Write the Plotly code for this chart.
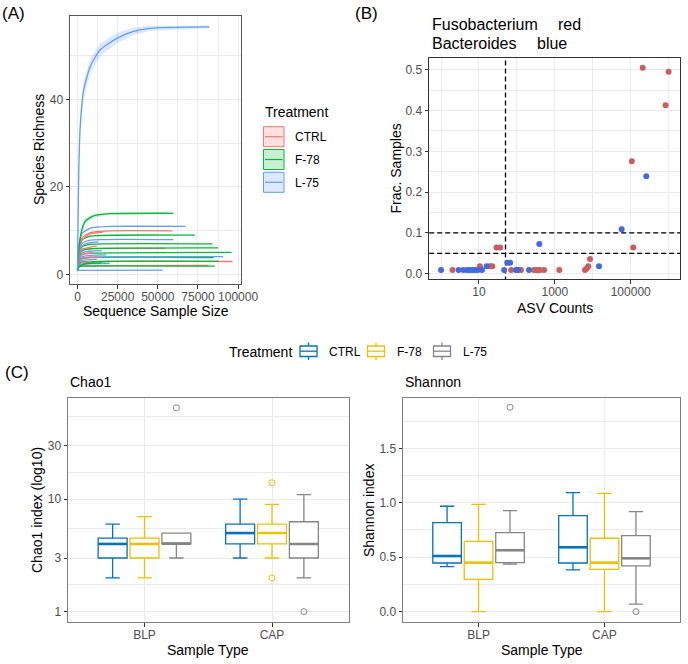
import math
import plotly.graph_objects as go

W, H = 688, 664
FONT = "Liberation Sans"
TICK_TXT = "#4D4D4D"
GRID = "#EBEBEB"


def px(x):
    return x / W


def py(y):
    return 1 - y / H


# ---------------- Panel A : rarefaction curves ----------------
treatments = ["CTRL", "F-78", "L-75"]
rare_colors = {"CTRL": "#F8766D", "F-78": "#00BA38", "L-75": "#619CFF"}
rare_fills = {"CTRL": "rgba(248,118,109,0.22)", "F-78": "rgba(0,186,56,0.22)",
              "L-75": "rgba(97,156,255,0.22)"}

rare_treatment = [
    "L-75", "CTRL", "F-78", "L-75", "F-78", "CTRL", "F-78", "F-78", "F-78", "L-75",
    "CTRL", "F-78", "CTRL", "F-78", "L-75",
    "CTRL", "L-75", "CTRL", "L-75", "CTRL", "L-75", "CTRL", "L-75", "F-78", "CTRL",
    "L-75", "F-78",
]
rare_depth = [
    [1, 1000, 3000, 8000, 20000, 67300],
    [1, 1000, 3000, 8000, 20000, 59000],
    [1, 1000, 3000, 8000, 73100],
    [1, 1000, 3000, 8000, 59600],
    [1, 1000, 3000, 8000, 84100],
    [1, 1000, 3000, 8000, 54500],
    [1, 1000, 3000, 8000, 87600],
    [1, 1000, 3000, 8000, 95900],
    [1, 1000, 3000, 84800],
    [1, 1000, 3000, 8000, 90700],
    [1, 1000, 3000, 96500],
    [1, 1000, 3000, 88000],
    [1, 1000, 3000, 81400],
    [1, 1000, 3000, 85500],
    [1, 53000],
    [1, 1000, 3000, 8000, 16000],
    [1, 1000, 3000, 8000, 13000],
    [1, 1000, 3000, 8000, 12000],
    [1, 1000, 3000, 8000, 15000],
    [1, 1000, 3000, 10000],
    [1, 1000, 3000, 8000, 18000],
    [1, 1000, 3000, 14000],
    [1, 1000, 3000, 12000],
    [1, 1000, 3000, 20000],
    [1, 1000, 3000, 9000],
    [1, 1000, 3000, 20000],
    [1, 1000, 3000, 8000, 15000],
]
rare_richness = [
    [1, 7, 9.5, 10.6, 11, 11],
    [1, 6, 8.5, 9.6, 10, 10],
    [1, 6, 8, 8.8, 9],
    [1, 5.5, 7.2, 7.9, 8],
    [1, 5, 6.4, 6.9, 7],
    [1, 4.5, 5.6, 5.95, 6],
    [1, 4.3, 5.5, 5.9, 6.1],
    [1, 3.8, 4.6, 4.9, 5.1],
    [1, 3, 3.7, 3.9],
    [1, 3.2, 3.8, 4.0, 4.1],
    [1, 2.6, 2.9, 3],
    [1, 2.5, 2.85, 3.05],
    [1, 1.9, 2, 2.1],
    [1, 1.8, 1.95, 1.95],
    [1, 1.05],
    [1, 5.5, 8, 9.3, 9.7],
    [1, 5, 6.6, 7.3, 7.5],
    [1, 4.5, 5.8, 6.3, 6.5],
    [1, 4, 5, 5.4, 5.5],
    [1, 3.8, 4.6, 5],
    [1, 3.5, 4.1, 4.4, 4.5],
    [1, 3.2, 3.8, 4],
    [1, 2.8, 3.3, 3.5],
    [1, 2.4, 2.8, 3],
    [1, 2.4, 2.8, 3],
    [1, 2.0, 2.4, 2.5],
    [1, 1.7, 2.3, 2.6, 2.7],
]

# curves drawn with confidence ribbons
f78_top_depth = [1, 1000, 2500, 5000, 10000, 20000, 59600]
f78_top_rich = [1, 6.5, 10, 12.3, 13.4, 13.9, 14]
f78_top_low = [1, 5.8, 9.2, 11.7, 13.0, 13.7, 13.9]
f78_top_high = [1, 7.2, 10.8, 12.9, 13.8, 14.1, 14.1]

l75_big_depth = [1, 300, 800, 1660, 3730, 7900, 14100, 24500, 34800, 45000, 82000]
l75_big_rich = [1, 12, 24, 33.8, 42, 47.5, 51.3, 53.9, 55.5, 56.2, 56.5]
l75_big_low = [1, 10.5, 22, 32, 40, 45.8, 49.8, 52.7, 54.6, 55.6, 56.2]
l75_big_high = [1, 13.5, 26, 35.6, 44, 49.2, 52.8, 55.1, 56.4, 56.8, 56.8]

# ---------------- Panel B : prevalence vs counts ----------------
fuso_counts = [2, 10.6, 19.5, 22.4, 29, 36, 70, 128, 282, 318, 360, 406, 517, 1310,
               6240, 6920, 7600, 8440, 117000, 107000, 833000, 1000000, 207000]
fuso_frac = [0.009, 0.018, 0.018, 0.018, 0.064, 0.064, 0.009, 0.009, 0.009, 0.009,
             0.009, 0.009, 0.009, 0.009, 0.009, 0.013, 0.018, 0.036, 0.064, 0.2755,
             0.413, 0.495, 0.505]
bact_counts = [1, 2.9, 3.9, 4.9, 5.8, 6.8, 8, 9.4, 12, 16, 46, 56, 66, 94, 107, 208,
               389, 14580, 57800, 258000]
bact_frac = [0.009, 0.009, 0.009, 0.009, 0.009, 0.009, 0.009, 0.009, 0.009, 0.018,
             0.009, 0.027, 0.027, 0.009, 0.009, 0.009, 0.073, 0.018, 0.109, 0.2387]
count_cutoff = 50
frac_cutoffs = [0.05, 0.1]

# ---------------- Panel C : alpha diversity ----------------
sample_types = ["BLP", "CAP"]
box_colors = {"CTRL": "#0073C2", "F-78": "#EFC000", "L-75": "#868686"}

chao1_low = {"CTRL": [2, 3], "F-78": [2, 3], "L-75": [3, 2]}
chao1_q1 = {"CTRL": [3, 4], "F-78": [3, 4], "L-75": [4, 3]}
chao1_med = {"CTRL": [4, 5], "F-78": [4, 5], "L-75": [4.02, 4]}
chao1_q3 = {"CTRL": [4.5, 6], "F-78": [4.5, 6], "L-75": [5, 6.3]}
chao1_high = {"CTRL": [6, 10], "F-78": [7, 9], "L-75": [5, 11]}
chao1_out_type = {"CTRL": [], "F-78": ["CAP", "CAP"], "L-75": ["BLP", "CAP"]}
chao1_out_val = {"CTRL": [], "F-78": [14, 2], "L-75": [65, 1]}

shan_low = {"CTRL": [0.413, 0.383], "F-78": [0.0, 0.0], "L-75": [0.436, 0.07]}
shan_q1 = {"CTRL": [0.447, 0.447], "F-78": [0.297, 0.389], "L-75": [0.45, 0.42]}
shan_med = {"CTRL": [0.511, 0.591], "F-78": [0.45, 0.45], "L-75": [0.564, 0.49]}
shan_q3 = {"CTRL": [0.817, 0.882], "F-78": [0.646, 0.674], "L-75": [0.726, 0.698]}
shan_high = {"CTRL": [0.968, 1.093], "F-78": [0.986, 1.087], "L-75": [0.928, 0.918]}
shan_out_type = {"CTRL": [], "F-78": [], "L-75": ["BLP", "CAP"]}
shan_out_val = {"CTRL": [], "F-78": [], "L-75": [1.877, 0.0]}

DODGE = 0.25
BOX_W = 0.227

fig = go.Figure()

# ---- Panel A traces ----
def ribbon(depth, low, high, tr, xa, ya):
    fig.add_trace(go.Scatter(x=depth, y=low, mode="lines", line=dict(width=0),
                             xaxis=xa, yaxis=ya, showlegend=False, hoverinfo="skip"))
    fig.add_trace(go.Scatter(x=depth, y=high, mode="lines", line=dict(width=0),
                             fill="tonexty", fillcolor=rare_fills[tr],
                             xaxis=xa, yaxis=ya, showlegend=False, hoverinfo="skip"))

for tr, d, r in zip(rare_treatment, rare_depth, rare_richness):
    fig.add_trace(go.Scatter(x=d, y=r, mode="lines",
                             line=dict(color=rare_colors[tr], width=1.3, shape="spline",
                                       smoothing=0.5),
                             xaxis="x", yaxis="y", showlegend=False))

ribbon(f78_top_depth, f78_top_low, f78_top_high, "F-78", "x", "y")
fig.add_trace(go.Scatter(x=f78_top_depth, y=f78_top_rich, mode="lines",
                         line=dict(color=rare_colors["F-78"], width=1.3, shape="spline",
                                   smoothing=0.5),
                         xaxis="x", yaxis="y", showlegend=False))
ribbon(l75_big_depth, l75_big_low, l75_big_high, "L-75", "x", "y")
fig.add_trace(go.Scatter(x=l75_big_depth, y=l75_big_rich, mode="lines",
                         line=dict(color=rare_colors["L-75"], width=1.3, shape="spline",
                                   smoothing=0.6),
                         xaxis="x", yaxis="y", showlegend=False))

# ---- Panel B traces ----
fig.add_trace(go.Scatter(x=[count_cutoff, count_cutoff], y=[-1, 1], mode="lines",
                         line=dict(color="black", width=1.3, dash="5px,3px"),
                         xaxis="x2", yaxis="y2", showlegend=False))
for fc in frac_cutoffs:
    fig.add_trace(go.Scatter(x=[0.01, 1e8], y=[fc, fc], mode="lines",
                             line=dict(color="black", width=1.3, dash="5px,3px"),
                             xaxis="x2", yaxis="y2", showlegend=False))
fig.add_trace(go.Scatter(x=fuso_counts, y=fuso_frac, mode="markers",
                         marker=dict(color="#CD5C5C", size=6),
                         xaxis="x2", yaxis="y2", showlegend=False))
fig.add_trace(go.Scatter(x=bact_counts, y=bact_frac, mode="markers",
                         marker=dict(color="#4169E1", size=6),
                         xaxis="x2", yaxis="y2", showlegend=False))

# ---- Panel C traces ----
def boxes(low, q1, med, q3, high, out_t, out_v, xa, ya):
    for k, tr in enumerate(treatments):
        pos = [i + 1 + (k - 1) * DODGE for i in range(len(sample_types))]
        col = box_colors[tr]
        fig.add_trace(go.Box(x=pos, lowerfence=low[tr], q1=q1[tr], median=med[tr],
                             q3=q3[tr], upperfence=high[tr], width=BOX_W,
                             fillcolor="white", line=dict(color=col, width=1.3),
                             boxpoints=False, xaxis=xa, yaxis=ya, showlegend=False))
        mx, my = [], []
        for p, m in zip(pos, med[tr]):
            mx += [p - BOX_W / 2, p + BOX_W / 2, None]
            my += [m, m, None]
        fig.add_trace(go.Scatter(x=mx, y=my, mode="lines", line=dict(color=col, width=2.6),
                                 xaxis=xa, yaxis=ya, showlegend=False))
        if out_v[tr]:
            ox = [sample_types.index(t) + 1 + (k - 1) * DODGE for t in out_t[tr]]
            fig.add_trace(go.Scatter(x=ox, y=out_v[tr], mode="markers",
                                     marker=dict(symbol="circle-open", size=6,
                                                 color=col, line=dict(width=1)),
                                     xaxis=xa, yaxis=ya, showlegend=False))

boxes(chao1_low, chao1_q1, chao1_med, chao1_q3, chao1_high, chao1_out_type,
      chao1_out_val, "x3", "y3")
boxes(shan_low, shan_q1, shan_med, shan_q3, shan_high, shan_out_type,
      shan_out_val, "x4", "y4")

# ---------------- axes ----------------
def ax(domain, rng, anchor, linecolor, typ="linear", tickvals=None, ticktext=None,
       minor_vals=None, tickformat=None, standoff=0):
    d = dict(domain=domain, range=rng, anchor=anchor, type=typ, showline=True,
             mirror=True, linecolor=linecolor, linewidth=1, ticks="outside", ticklen=3.5,
             tickwidth=1, tickcolor="#333333", showgrid=True, gridcolor=GRID,
             gridwidth=1.1, zeroline=False, automargin=False,
             tickfont=dict(family=FONT, size=12, color=TICK_TXT))
    if standoff:
        d["ticklabelstandoff"] = standoff
    if tickvals is not None:
        d["tickmode"] = "array"
        d["tickvals"] = tickvals
        if ticktext is not None:
            d["ticktext"] = ticktext
    if tickformat:
        d["tickformat"] = tickformat
    if minor_vals is not None:
        d["minor"] = dict(tickmode="array", tickvals=minor_vals, showgrid=True,
                          gridcolor=GRID, gridwidth=0.6, ticks="")
    return d

A_dom_x = [px(70), px(241)]
A_dom_y = [py(284), py(16)]
B_dom_x = [px(429), px(680)]
B_dom_y = [py(279), py(58)]
C1_dom_x = [px(68), px(348.5)]
C2_dom_x = [px(403), px(680)]
C_dom_y = [py(622), py(398)]

a_xticks = [0, 25000, 50000, 75000, 100000]
b_xticks = [10, 1000, 100000]
chao_ticks = [1, 3, 10, 30]
shan_ticks = [0, 0.5, 1.0, 1.5]

layout = dict(
    width=W, height=H, margin=dict(l=0, r=0, t=0, b=0),
    paper_bgcolor="white", plot_bgcolor="white", showlegend=False,
    font=dict(family=FONT, color="black"),
    xaxis=ax(A_dom_x, [-4700, 101800], "y", "#555555", tickvals=a_xticks,
             ticktext=[str(v) for v in a_xticks],
             minor_vals=[12500, 37500, 62500, 87500], standoff=-2),
    yaxis=ax(A_dom_y, [-2.13, 59.0], "x", "#555555", tickvals=[0, 20, 40],
             minor_vals=[10, 30, 50]),
    xaxis2=ax(B_dom_x, [-0.318, 6.30], "y2", "#333333", typ="log", tickvals=b_xticks,
              ticktext=[str(v) for v in b_xticks], minor_vals=[1, 100, 10000, 1000000],
              standoff=-2),
    yaxis2=ax(B_dom_y, [-0.013, 0.529], "x2", "#333333",
              tickvals=[0, 0.1, 0.2, 0.3, 0.4, 0.5], tickformat=".1f",
              minor_vals=[0.05, 0.15, 0.25, 0.35, 0.45]),
    xaxis3=ax(C1_dom_x, [0.4, 2.6], "y3", "#7F7F7F", tickvals=[1, 2],
              ticktext=sample_types, standoff=-2),
    yaxis3=ax(C_dom_y, [-0.092, 1.90], "x3", "#7F7F7F", typ="log", tickvals=chao_ticks,
              ticktext=[str(v) for v in chao_ticks],
              minor_vals=[math.sqrt(3), math.sqrt(30), math.sqrt(300), math.sqrt(3000)]),
    xaxis4=ax(C2_dom_x, [0.4, 2.6], "y4", "#7F7F7F", tickvals=[1, 2],
              ticktext=sample_types, standoff=-2),
    yaxis4=ax(C_dom_y, [-0.095, 1.962], "x4", "#7F7F7F", tickvals=shan_ticks,
              tickformat=".1f", minor_vals=[0.25, 0.75, 1.25, 1.75]),
)
fig.update_layout(**layout)

# ---------------- annotations (titles, tags, legends) ----------------
ann = []
shapes = []


def text(x, y, s, size, xanchor="left", angle=0, color="black"):
    ann.append(dict(x=px(x), y=py(y), xref="paper", yref="paper", text=s,
                    showarrow=False, xanchor=xanchor, yanchor="middle",
                    textangle=angle, font=dict(family=FONT, size=size, color=color)))


text(0, 13, "(A)", 17)
text(353, 13, "(B)", 17)
text(3, 372, "(C)", 17)

text(39, 150, "Species Richness", 14, xanchor="center", angle=-90)
text(155.5, 311, "Sequence Sample Size", 14, xanchor="center")
text(396, 168.5, "Frac. Samples", 14, xanchor="center", angle=-90)
text(554.5, 308, "ASV Counts", 14, xanchor="center")

text(430, 24, "Fusobacterium", 16)
text(556, 24, "red", 16)
text(430, 43, "Bacteroides", 16)
text(535, 43, "blue", 16)

text(68, 382, "Chao1", 14)
text(403, 382, "Shannon", 14)
text(37, 510, "Chao1 index (log10)", 14, xanchor="center", angle=-90)
text(369, 510, "Shannon index", 14, xanchor="center", angle=-90)
text(208, 649.5, "Sample Type", 14, xanchor="center")
text(541.5, 649.5, "Sample Type", 14, xanchor="center")

# legend for panel A
text(263, 112, "Treatment", 14)
for i, tr in enumerate(treatments):
    y0 = 126.7 + i * 22.8
    shapes.append(dict(type="rect", xref="paper", yref="paper", x0=px(263.5),
                       x1=px(284), y0=py(y0), y1=py(y0 + 20),
                       fillcolor=rare_fills[tr], line=dict(color=rare_colors[tr], width=1)))
    shapes.append(dict(type="line", xref="paper", yref="paper", x0=px(265),
                       x1=px(282.5), y0=py(y0 + 10), y1=py(y0 + 10),
                       line=dict(color=rare_colors[tr], width=1.2)))
    text(292.5, y0 + 10.5, tr, 12)

# legend for panel C
text(226.5, 352, "Treatment", 14)
leg_icon_x = [300, 367.5, 433.5]
leg_text_x = [327.3, 395, 460.7]
for i, tr in enumerate(treatments):
    col = box_colors[tr]
    x0 = leg_icon_x[i]
    xc = x0 + 8.5
    shapes.append(dict(type="rect", xref="paper", yref="paper", x0=px(x0),
                       x1=px(x0 + 17), y0=py(346), y1=py(356.5), fillcolor="white",
                       line=dict(color=col, width=1.3)))
    shapes.append(dict(type="line", xref="paper", yref="paper", x0=px(x0),
                       x1=px(x0 + 17), y0=py(351.2), y1=py(351.2),
                       line=dict(color=col, width=1.3)))
    shapes.append(dict(type="line", xref="paper", yref="paper", x0=px(xc), x1=px(xc),
                       y0=py(342.5), y1=py(346), line=dict(color=col, width=1.3)))
    shapes.append(dict(type="line", xref="paper", yref="paper", x0=px(xc), x1=px(xc),
                       y0=py(356.5), y1=py(360), line=dict(color=col, width=1.3)))
    text(leg_text_x[i], 352, tr, 12)

fig.update_layout(annotations=ann, shapes=shapes)

fig.write_html("out.html", config={"displayModeBar": False},
               post_script="document.body.style.margin='0';")
